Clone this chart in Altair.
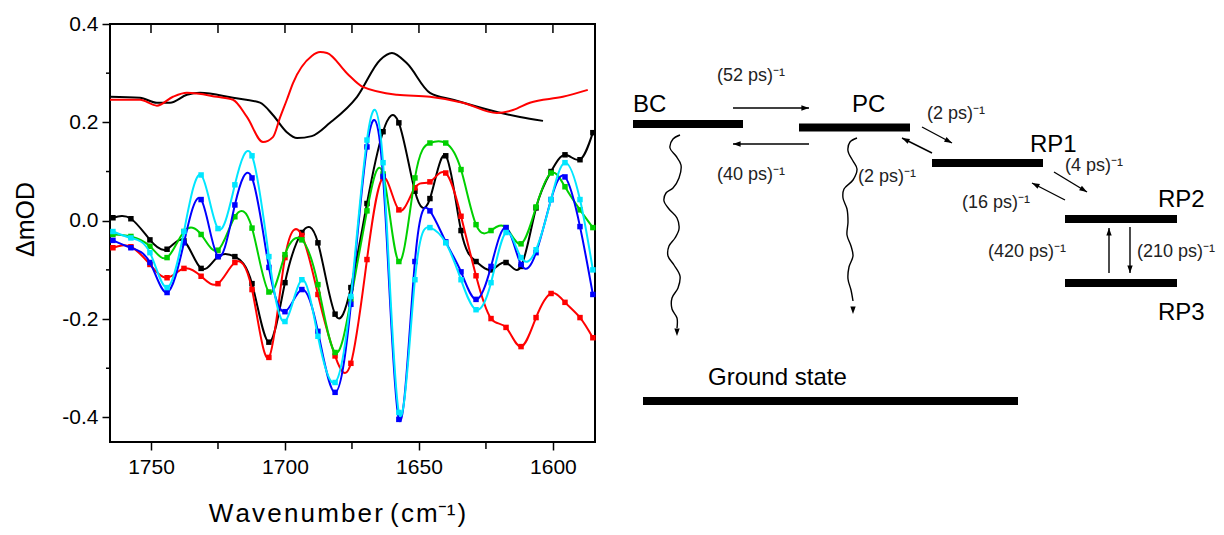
import math
import altair as alt
import pandas as pd

# ---------------- spectra (left panel) ----------------
wavenumber = [1764.2, 1757.5, 1750.4, 1744.0, 1737.7, 1731.3, 1725.0, 1718.7, 1712.3, 1706.0,
              1700.0, 1693.7, 1687.7, 1681.3, 1675.4, 1669.4, 1663.4, 1657.5, 1651.5, 1645.9,
              1640.0, 1634.3, 1628.7, 1623.1, 1617.5, 1611.9, 1606.3, 1600.7, 1595.5, 1589.9, 1585.1]

black_pts = [0.006, 0.004, -0.039, -0.058, -0.041, -0.097, -0.073, -0.073, -0.128, -0.247,
             -0.126, -0.024, -0.045, -0.190, -0.136, 0.035, 0.181, 0.199, 0.060, 0.045,
             0.132, -0.020, -0.083, -0.100, -0.085, -0.093, 0.026, 0.100, 0.134, 0.124, 0.179]
red_pts = [-0.055, -0.053, -0.089, -0.116, -0.097, -0.113, -0.128, -0.085, -0.140, -0.278,
           -0.075, -0.030, -0.150, -0.275, -0.290, -0.079, 0.087, 0.022, 0.067, 0.079,
           0.097, 0.009, -0.112, -0.199, -0.217, -0.256, -0.197, -0.148, -0.166, -0.197, -0.238]
green_pts = [-0.028, -0.032, -0.052, -0.075, -0.022, -0.028, -0.060, 0.008, -0.015, -0.145,
             -0.069, -0.039, -0.130, -0.268, -0.160, 0.020, 0.095, -0.083, 0.087, 0.158,
             0.158, 0.104, -0.008, -0.020, -0.014, -0.047, 0.028, 0.097, 0.069, 0.022, -0.014]
blue_pts = [-0.040, -0.055, -0.085, -0.146, -0.045, 0.043, -0.073, 0.032, 0.087, -0.095,
            -0.185, -0.140, -0.225, -0.349, -0.170, 0.150, 0.090, -0.404, -0.083, 0.020,
            -0.043, -0.104, -0.160, -0.093, -0.014, -0.089, -0.065, 0.043, 0.089, -0.012, -0.150]
cyan_pts = [-0.022, -0.035, -0.065, -0.136, -0.022, 0.093, -0.016, 0.073, 0.132, -0.073,
            -0.205, -0.120, -0.235, -0.329, -0.154, 0.164, 0.118, -0.390, -0.120, -0.014,
            -0.045, -0.120, -0.181, -0.126, -0.024, -0.075, -0.059, 0.043, 0.118, 0.043, -0.100]

smooth_black_wn = [1765.3, 1754.1, 1747.8, 1742.9, 1736.6, 1731.7, 1719.4, 1709.3, 1704.5, 1699.3,
                   1695.5, 1690.0, 1683.2, 1673.1, 1664.5, 1660.1, 1654.5, 1645.9, 1637.3, 1620.9,
                   1612.3, 1603.7]
smooth_black_val = [0.252, 0.250, 0.240, 0.240, 0.256, 0.260, 0.250, 0.240, 0.215, 0.180,
                    0.168, 0.172, 0.199, 0.252, 0.327, 0.341, 0.320, 0.260, 0.246, 0.221,
                    0.211, 0.203]
smooth_red_wn = [1765.3, 1754.1, 1747.8, 1741.8, 1736.6, 1725.4, 1719.4, 1714.2, 1708.2, 1704.5,
                 1701.9, 1699.3, 1697.0, 1690.0, 1686.9, 1684.3, 1676.9, 1670.9, 1658.2, 1645.9,
                 1633.6, 1620.9, 1614.9, 1608.6, 1596.3, 1587.0]
smooth_red_val = [0.246, 0.246, 0.234, 0.252, 0.260, 0.252, 0.246, 0.211, 0.160, 0.170,
                  0.209, 0.246, 0.280, 0.335, 0.343, 0.341, 0.300, 0.272, 0.256, 0.252,
                  0.240, 0.219, 0.225, 0.240, 0.252, 0.266]

series_names = ["black", "red", "green", "blue", "cyan"]
series_values = [black_pts, red_pts, green_pts, blue_pts, cyan_pts]
series_colors = ["#000000", "#ff0000", "#00d000", "#0000ff", "#00e6ff"]

x_major = [1750, 1700, 1650, 1600]
x_minor = [1725, 1675, 1625]
y_major = [-0.4, -0.2, 0.0, 0.2, 0.4]
y_minor = [0.3, 0.1, -0.1, -0.3]

FONT = "Liberation Sans"
HS = "\u200a"
x_title = HS.join(list("Wavenumber")) + " " + HS.join(["(", "c", "m⁻¹", ")"])

xsc = alt.Scale(domain=[1584.3, 1765.3], reverse=True, nice=False, zero=False)
ysc = alt.Scale(domain=[-0.45, 0.4], nice=False, zero=False)

x_axis = alt.Axis(values=x_major, format="d", title=x_title, grid=False, domain=False,
                  tickSize=8, tickWidth=1.5, tickColor="black", labelFontSize=21,
                  labelColor="black", labelPadding=6, labelFont=FONT, titleFont=FONT,
                  titleFontSize=26, titleFontWeight="normal", titleColor="black",
                  titleX=227, titleY=79, titleBaseline="alphabetic", titleAlign="center")
y_axis = alt.Axis(values=y_major, title="ΔmOD", grid=False, domain=False,
                  labelExpr="datum.value < 0 ? '-' + format(-datum.value, '.1f') : format(datum.value, '.1f')",
                  tickSize=8, tickWidth=1.5, tickColor="black", labelFontSize=21,
                  labelColor="black", labelPadding=4, labelFont=FONT, titleFont=FONT,
                  titleFontSize=25, titleFontWeight="normal", titleColor="black",
                  titleX=-77, titleY=195, titleAngle=270, titleBaseline="alphabetic",
                  titleAlign="center")


def xenc(field):
    return alt.X(field, type="quantitative", scale=xsc, axis=x_axis)


def yenc(field):
    return alt.Y(field, type="quantitative", scale=ysc, axis=y_axis)


layers = []
sb = pd.DataFrame({"wn": smooth_black_wn, "v": smooth_black_val})
sr = pd.DataFrame({"wn": smooth_red_wn, "v": smooth_red_val})
layers.append(alt.Chart(sb).mark_line(color="#000000", strokeWidth=2, interpolate="monotone")
              .encode(x=xenc("wn"), y=yenc("v")))
layers.append(alt.Chart(sr).mark_line(color="#ff0000", strokeWidth=2, interpolate="monotone")
              .encode(x=xenc("wn"), y=yenc("v")))

for name, vals, col in zip(series_names, series_values, series_colors):
    df = pd.DataFrame({"wn": wavenumber, "v": vals})
    layers.append(alt.Chart(df).mark_line(color=col, strokeWidth=2, interpolate="natural")
                  .encode(x=xenc("wn"), y=yenc("v")))
    layers.append(alt.Chart(df).mark_square(color=col, size=30, opacity=1)
                  .encode(x=xenc("wn"), y=yenc("v")))

# minor ticks on bottom, ticks on top (inside), minor ticks on left
layers.append(alt.Chart(pd.DataFrame({"t": x_minor})).mark_rule(color="black", strokeWidth=1.5)
              .encode(x=xenc("t"), y=alt.value(418), y2=alt.value(425)))
layers.append(alt.Chart(pd.DataFrame({"t": x_major + x_minor})).mark_rule(color="black", strokeWidth=1.5)
              .encode(x=xenc("t"), y=alt.value(0), y2=alt.value(9)))
layers.append(alt.Chart(pd.DataFrame({"t": y_minor})).mark_rule(color="black", strokeWidth=1.5)
              .encode(y=yenc("t"), x=alt.value(-4), x2=alt.value(0)))

spectra = alt.layer(*layers)

# ---------------- kinetic scheme (right side), page-pixel coordinates ----------------
level_names = ["BC", "PC", "RP1", "RP2", "RP3", "Ground state"]
level_x1 = [633, 799, 932, 1065, 1065, 643]
level_x2 = [743, 910, 1043, 1177, 1177, 1018]
level_y = [124, 127.5, 163, 219, 283, 401]
label_x = [633, 852, 1030, 1158, 1158, 708]
label_y = [112, 112, 152, 207, 320, 385]
label_size = [24, 24, 24, 24, 24, 23]

rate_text = ["(52 ps)⁻¹", "(40 ps)⁻¹", "(2 ps)⁻¹", "(2 ps)⁻¹", "(4 ps)⁻¹",
             "(16 ps)⁻¹", "(420 ps)⁻¹", "(210 ps)⁻¹"]
rate_x = [751, 751, 887, 956, 1094, 996, 1027, 1176]
rate_y = [76, 175, 177, 114, 166, 203, 252, 252]

arrow_x1 = [733, 809, 922, 932, 1054, 1065, 1109, 1130]
arrow_y1 = [108, 144, 127, 153, 172, 200, 273, 227]
arrow_x2 = [809, 733, 952, 902, 1087, 1032, 1109, 1130]
arrow_y2 = [108, 144, 143, 138, 192, 183, 228, 273]

wavy_bc_x = [680, 673, 670, 676, 681, 679, 673, 666, 664, 669, 677, 679, 675, 669, 668, 674,
             680, 678, 672, 672, 677, 677]
wavy_bc_y = [135, 139, 148, 156, 165, 178, 188, 193, 201, 209, 218, 229, 238, 246, 256, 265,
             276, 288, 298, 309, 318, 328]
wavy_pc_x = [857, 850, 848, 853, 857, 853, 844, 843, 847, 848, 847, 851, 853, 849, 848, 851, 853]
wavy_pc_y = [138, 142, 151, 161, 169, 180, 189, 198, 209, 222, 235, 246, 256, 267, 279, 290, 301]
wavy_tip_x = [677, 853]
wavy_tip_y = [336, 314]

# page x 110..595 / page y 24..442 is the spectrum's plot area
dxs = alt.Scale(domain=[110, 595], nice=False, zero=False)
dys = alt.Scale(domain=[24, 442], reverse=True, nice=False, zero=False)
angs = alt.Scale(domain=[0, 360], range=[0, 360])


def DX(f):
    return alt.X(f, type="quantitative", scale=dxs, axis=None)


def DY(f):
    return alt.Y(f, type="quantitative", scale=dys, axis=None)


def heading(x1, y1, x2, y2):
    return (math.degrees(math.atan2(x2 - x1, -(y2 - y1))) + 360) % 360


lv = pd.DataFrame({"name": level_names, "x": level_x1, "x2": level_x2, "y": level_y,
                   "lx": label_x, "ly": label_y, "fs": label_size})
bars = alt.Chart(lv).mark_rule(color="black", strokeWidth=8, strokeCap="butt").encode(
    x=DX("x"), x2=alt.X2("x2"), y=DY("y"))
lvl_labels = alt.Chart(lv[lv.fs == 24]).mark_text(
    align="left", baseline="alphabetic", fontSize=24, font=FONT, color="black").encode(
    x=DX("lx"), y=DY("ly"), text="name:N")
gs_label = alt.Chart(lv[lv.fs == 23]).mark_text(
    align="left", baseline="alphabetic", fontSize=24, font=FONT, color="black").encode(
    x=DX("lx"), y=DY("ly"), text="name:N")

rt = pd.DataFrame({"t": rate_text, "x": rate_x, "y": rate_y})
rate_labels = alt.Chart(rt).mark_text(
    align="center", baseline="middle", fontSize=18, font=FONT, color="#222222").encode(
    x=DX("x"), y=DY("y"), text="t:N")

ar = pd.DataFrame({"x": arrow_x1, "y": arrow_y1, "x2": arrow_x2, "y2": arrow_y2})
ar["ang"] = [heading(a, b, c, d) for a, b, c, d in zip(arrow_x1, arrow_y1, arrow_x2, arrow_y2)]
arrow_lines = alt.Chart(ar).mark_rule(color="black", strokeWidth=1.4).encode(
    x=DX("x"), y=DY("y"), x2=alt.X2("x2"), y2=alt.Y2("y2"))

HEAD = "M0,0L-0.6,1.7L0.6,1.7Z"
heads_df = pd.DataFrame({
    "x": arrow_x2 + wavy_tip_x,
    "y": arrow_y2 + wavy_tip_y,
    "ang": list(ar["ang"]) + [heading(wavy_bc_x[-1], wavy_bc_y[-1], wavy_tip_x[0], wavy_tip_y[0]),
                              heading(wavy_pc_x[-1], wavy_pc_y[-1], wavy_tip_x[1], wavy_tip_y[1])],
})
heads = alt.Chart(heads_df).mark_point(shape=HEAD, filled=True, size=80, color="black",
                                       opacity=1, strokeWidth=0).encode(
    x=DX("x"), y=DY("y"), angle=alt.Angle("ang:Q", scale=angs))

wv = pd.DataFrame({
    "x": wavy_bc_x + wavy_pc_x,
    "y": wavy_bc_y + wavy_pc_y,
    "g": ["bc"] * len(wavy_bc_x) + ["pc"] * len(wavy_pc_x),
    "i": list(range(len(wavy_bc_x))) + list(range(len(wavy_pc_x))),
})
wavy = alt.Chart(wv).mark_line(color="black", strokeWidth=1.4, interpolate="catmull-rom").encode(
    x=DX("x"), y=DY("y"), detail="g:N", order=alt.Order("i:Q"))

scheme = alt.layer(bars, lvl_labels, gs_label, rate_labels, arrow_lines, wavy, heads)

chart = alt.layer(spectra, scheme).resolve_scale(
    x="independent", y="independent", angle="independent"
).properties(
    width=485, height=418,
    autosize=alt.AutoSizeParams(type="none"),
    padding={"left": 102, "top": 16, "right": 621, "bottom": 85},
).configure_view(stroke="black", strokeWidth=2)

chart.save("out.html", embed_options={"renderer": "svg", "actions": False})
